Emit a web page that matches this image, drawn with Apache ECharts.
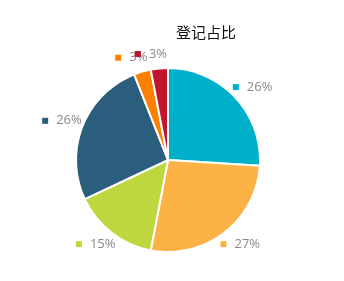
<!DOCTYPE html>
<html>
<head>
<meta charset="utf-8">
<style>
  html, body { margin: 0; padding: 0; background: #fff; }
  #chart { width: 344px; height: 281px; }
</style>
<script src="https://cdn.jsdelivr.net/npm/echarts@6/dist/echarts.min.js"></script>
</head>
<body>
<div id="chart"></div>
<script>
// Share of registrations by category
const categories = ['类别一', '类别二', '类别三', '类别四', '类别五', '类别六'];
const shares = [26, 27, 15, 26, 3, 3];
const sliceColors = ['#00b0cb', '#fcb244', '#bed73f', '#2b5e7d', '#ff7f00', '#c1152e'];
const chartTitle = '登记占比';

const chart = echarts.init(document.getElementById('chart'), null, { renderer: 'canvas' });

const pieData = categories.map((name, i) => ({
  name: name,
  value: shares[i],
  itemStyle: { color: sliceColors[i] },
  label: { rich: { sq: { backgroundColor: sliceColors[i], width: 6, height: 6 } } }
}));

chart.setOption({
  animation: false,
  backgroundColor: '#fff',
  title: {
    text: chartTitle,
    left: 171,
    top: 20,
    textStyle: {
      fontFamily: '"Noto Sans CJK SC", sans-serif',
      fontSize: 15,
      fontWeight: 'normal',
      color: '#111'
    }
  },
  series: [{
    type: 'pie',
    center: [168, 160],
    radius: 92,
    startAngle: 90,
    clockwise: true,
    percentPrecision: 0,
    avoidLabelOverlap: false,
    minShowLabelAngle: 0,
    itemStyle: { borderColor: '#fff', borderWidth: 2 },
    label: {
      show: true,
      position: 'outside',
      distanceToLabelLine: 7,
      formatter: '{sq|}{gap|}{d}%',
      fontFamily: '"Open Sans", sans-serif',
      fontSize: 13,
      color: '#8a8a8a',
      rich: {
        gap: { width: 8 }
      }
    },
    labelLine: { show: false, length: 14.5, length2: 0 },
    labelLayout: { align: 'center', hideOverlap: false, moveOverlap: false },
    data: pieData
  }]
});
</script>
</body>
</html>
